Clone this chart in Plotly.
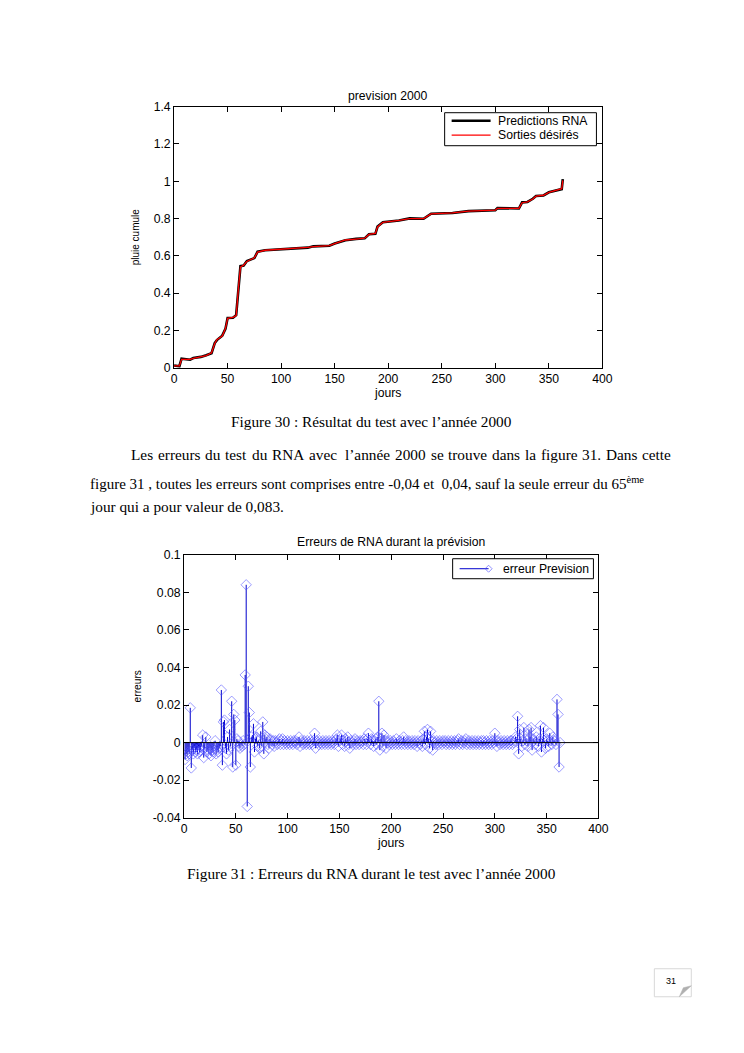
import plotly.graph_objects as go

# ---------------- data ----------------
# Figure 30 : cumulative rainfall (day, value) vertices
days_desired = [0, 5, 7, 15, 18, 25, 30, 35, 38, 40, 45, 48, 50, 55, 58, 60, 62, 65, 68, 75, 78, 85,
                100, 125, 130, 145, 150, 160, 170, 178, 182, 188, 190, 195, 210, 220, 233, 240,
                260, 275, 300, 302, 322, 325, 330, 335, 338, 345, 350, 360, 362, 363]
desired = [0.010, 0.010, 0.045, 0.045, 0.050, 0.060, 0.065, 0.080, 0.130, 0.150, 0.170, 0.210,
           0.265, 0.270, 0.280, 0.420, 0.540, 0.550, 0.570, 0.590, 0.620, 0.630, 0.635, 0.645,
           0.650, 0.655, 0.665, 0.685, 0.690, 0.695, 0.715, 0.720, 0.755, 0.780, 0.790, 0.800,
           0.800, 0.825, 0.830, 0.840, 0.845, 0.855, 0.855, 0.885, 0.890, 0.905, 0.920, 0.925,
           0.940, 0.955, 0.960, 1.005]
days_pred = days_desired
predicted = [0.012, 0.008, 0.048, 0.043, 0.052, 0.058, 0.067, 0.078, 0.132, 0.148, 0.172, 0.208,
             0.267, 0.268, 0.282, 0.425, 0.545, 0.548, 0.572, 0.588, 0.622, 0.630, 0.636, 0.644,
             0.651, 0.654, 0.666, 0.684, 0.691, 0.694, 0.716, 0.718, 0.757, 0.780, 0.790, 0.801,
             0.799, 0.826, 0.830, 0.840, 0.845, 0.856, 0.854, 0.887, 0.889, 0.906, 0.921, 0.924,
             0.941, 0.954, 0.958, 1.012]

# Figure 31 : daily errors, days 1..363
errors = [
    -0.009, -0.006, -0.007, -0.005, -0.006, 0.0185, -0.0135, -0.004, -0.006, -0.003,
    -0.005, -0.004, -0.006, -0.003, -0.005, -0.004, -0.002, 0.004, -0.008, -0.003,
    0.003, -0.005, -0.004, -0.006, -0.003, -0.007, -0.004, -0.005, -0.002, 0.001,
    -0.006, -0.004, -0.005, -0.003, -0.002, 0.028, -0.012, 0.011, 0.012, -0.003,
    -0.006, 0.003, -0.004, 0.007, -0.002, 0.022, -0.013, 0.015, 0.012, -0.012,
    0.002, 0.001, -0.002, -0.003, -0.001, -0.002, 0.001, -0.001, 0.036, 0.084,
    -0.034, 0.030, 0.016, -0.013, 0.003, 0.004, 0.010, -0.005, 0.002, 0.003,
    -0.002, 0.001, -0.003, 0.006, -0.002, 0.011, -0.006, 0.004, 0.002, 0.003,
    -0.001, -0.003, 0.002, 0.001, -0.001, 0.001, -0.002, 0.001, 0.000, -0.001,
    0.001, 0.002, -0.001, 0.001, 0.002, -0.001, 0.001, 0.000, -0.001, 0.001,
    0.000, -0.001, 0.001, 0.000, -0.001, 0.001, 0.000, 0.001, -0.001, 0.000,
    0.003, -0.002, 0.001, 0.000, -0.001, 0.001, 0.000, -0.001, 0.001, 0.000,
    -0.001, 0.001, 0.000, -0.001, 0.001, 0.005, -0.003, 0.001, 0.000, -0.001,
    0.001, 0.000, -0.001, 0.001, 0.000, -0.001, 0.001, 0.000, -0.001, 0.001,
    0.000, -0.001, 0.001, 0.000, -0.001, 0.001, 0.002, 0.004, -0.002, 0.001,
    0.002, 0.004, -0.001, 0.001, -0.002, 0.002, 0.001, 0.003, -0.001, -0.003,
    0.001, 0.000, -0.001, 0.001, 0.002, -0.001, 0.001, 0.000, -0.001, 0.001,
    0.000, 0.001, -0.001, 0.002, 0.001, -0.001, 0.002, 0.005, 0.001, -0.001,
    0.002, 0.001, -0.002, 0.001, 0.002, -0.001, 0.003, 0.022, -0.004, 0.002,
    0.005, -0.002, 0.004, 0.001, -0.003, 0.001, 0.000, -0.001, 0.001, 0.000,
    -0.001, 0.001, 0.000, -0.001, 0.002, 0.000, -0.001, 0.001, 0.000, -0.001,
    0.001, 0.003, -0.001, 0.001, 0.000, -0.001, 0.001, 0.000, -0.001, 0.001,
    0.000, -0.001, 0.001, 0.000, -0.002, 0.001, 0.000, -0.001, 0.001, -0.002,
    0.002, 0.006, -0.001, 0.003, 0.007, 0.002, -0.003, 0.006, 0.001, -0.004,
    0.001, 0.000, -0.001, 0.001, 0.000, -0.001, 0.001, 0.000, -0.001, 0.001,
    0.000, 0.001, -0.001, 0.000, 0.001, -0.001, 0.000, 0.001, -0.001, 0.000,
    0.001, -0.001, 0.000, 0.001, 0.002, -0.001, 0.000, 0.001, -0.001, 0.000,
    0.001, 0.002, -0.001, 0.000, 0.001, -0.001, 0.000, 0.001, -0.001, 0.000,
    0.001, -0.001, 0.000, 0.001, -0.001, 0.000, 0.001, -0.001, 0.001, 0.000,
    -0.001, 0.001, 0.000, -0.001, 0.001, 0.000, -0.001, 0.001, 0.000, 0.005,
    0.001, -0.002, 0.001, 0.000, -0.001, 0.001, 0.000, -0.001, 0.001, 0.000,
    -0.001, 0.001, 0.000, -0.001, 0.001, 0.001, -0.001, 0.000, 0.001, 0.003,
    0.002, 0.014, -0.006, 0.007, 0.002, -0.002, 0.001, 0.008, -0.001, 0.002,
    0.001, -0.002, 0.007, 0.003, 0.008, -0.004, 0.002, 0.001, -0.001, 0.003,
    0.001, -0.002, 0.002, 0.009, -0.005, 0.002, 0.008, 0.001, -0.003, 0.002,
    0.001, -0.002, 0.005, 0.001, -0.001, 0.003, 0.001, 0.001, -0.001, 0.023,
    0.015, -0.013, 0.000,
]
err_days = list(range(1, len(errors) + 1))

x_ticks = [0, 50, 100, 150, 200, 250, 300, 350, 400]
y1_ticks = [0, 0.2, 0.4, 0.6, 0.8, 1.0, 1.2, 1.4]
y1_labels = ["0", "0.2", "0.4", "0.6", "0.8", "1", "1.2", "1.4"]
y2_ticks = [-0.04, -0.02, 0, 0.02, 0.04, 0.06, 0.08, 0.1]
y2_labels = ["-0.04", "-0.02", "0", "0.02", "0.04", "0.06", "0.08", "0.1"]

legend1_names = ["Predictions RNA", "Sorties désirés"]
legend2_name = "erreur Prevision"

paragraph_line1 = "Les erreurs du test du RNA avec  l’année 2000 se trouve dans la figure 31. Dans cette"

# ---------------- figure ----------------
FW, FH = 732, 1041
SX, BX = 0.9837, 10.7     # page placement correction (measured)
SY, BY = 0.9865, 14.3
SANS = "Liberation Sans, Arial, sans-serif"
SERIF = "Liberation Serif, Times New Roman, serif"


def px_x(p):
    return ((p - BX) / SX) / FW


def px_y(p):
    return 1 - ((p - BY) / SY) / FH


# Times-metric advance widths (1/1000 em) used to justify the first paragraph line
TIMES_W = dict(zip("abcdefghijklmnopqrstuvwxyz",
                   [444, 500, 444, 500, 444, 333, 500, 500, 278, 278, 500, 278, 778,
                    500, 500, 500, 500, 333, 389, 278, 500, 500, 722, 500, 500, 444]))
TIMES_W.update({"A": 722, "D": 722, "F": 556, "L": 611, "N": 722, "R": 667, "S": 556,
                "é": 444, "’": 333, ".": 250, ",": 250, ":": 278, " ": 250})
for dch in "0123456789":
    TIMES_W[dch] = 500


def text_w(s, size):
    return sum(TIMES_W.get(ch, 500) for ch in s) * size / 1000.0


fig = go.Figure()

fig.add_trace(go.Scatter(x=days_pred, y=predicted, mode="lines", name=legend1_names[0],
                         line=dict(color="black", width=2.6), xaxis="x", yaxis="y",
                         showlegend=False))
fig.add_trace(go.Scatter(x=days_desired, y=desired, mode="lines", name=legend1_names[1],
                         line=dict(color="#ff0000", width=1.3), xaxis="x", yaxis="y",
                         showlegend=False))

# stems
sx, sy = [], []
for d, v in zip(err_days, errors):
    sx += [d, d, None]
    sy += [0, v, None]
fig.add_trace(go.Scatter(x=sx, y=sy, mode="lines", line=dict(color="#0000cc", width=1),
                         showlegend=False, hoverinfo="skip", xaxis="x2", yaxis="y2"))
fig.add_trace(go.Scatter(x=err_days, y=errors, mode="markers", name=legend2_name,
                         marker=dict(symbol="diamond-open", size=8,
                                     color="rgba(80,80,255,0.72)", line=dict(width=0.8)),
                         showlegend=False, xaxis="x2", yaxis="y2"))

axis_common = dict(showline=True, linecolor="black", linewidth=1, mirror="ticks",
                   ticks="inside", ticklen=5, tickcolor="black", showgrid=False,
                   zeroline=False, tickfont=dict(family=SANS, size=12.2, color="black"))
title_font = dict(family=SANS, size=12.2, color="black")

fig.update_layout(
    width=FW, height=FH, margin=dict(l=0, r=0, t=0, b=0),
    paper_bgcolor="white", plot_bgcolor="white", showlegend=False,
    xaxis=dict(domain=[px_x(174), px_x(603)], range=[0, 400], tickvals=x_ticks,
               anchor="y", title=dict(text="jours", font=title_font, standoff=1),
               **axis_common),
    yaxis=dict(domain=[px_y(367), px_y(106)], range=[0, 1.4], tickvals=y1_ticks,
               ticktext=y1_labels, anchor="x",
               title=dict(text="pluie cumule", font=dict(family=SANS, size=10, color="black"),
                          standoff=12),
               **axis_common),
    xaxis2=dict(domain=[px_x(184), px_x(599)], range=[0, 400], tickvals=x_ticks,
                anchor="y2", title=dict(text="jours", font=title_font, standoff=1),
                **axis_common),
    yaxis2=dict(domain=[px_y(817), px_y(554)], range=[-0.04, 0.1], tickvals=y2_ticks,
                ticktext=y2_labels, anchor="x2",
                title=dict(text="erreurs", font=dict(family=SANS, size=10.2, color="black"),
                           standoff=9),
                **axis_common),
)

shapes = [
    # stem baseline
    dict(type="line", xref="x2", yref="y2", x0=0, x1=400, y0=0, y1=0,
         line=dict(color="black", width=1)),
    # legend 1 box and samples
    dict(type="rect", xref="paper", yref="paper", x0=px_x(445), x1=px_x(597),
         y0=px_y(145), y1=px_y(112), line=dict(color="black", width=1), fillcolor="white"),
    dict(type="line", xref="paper", yref="paper", x0=px_x(452), x1=px_x(491),
         y0=px_y(120), y1=px_y(120), line=dict(color="black", width=2.6)),
    dict(type="line", xref="paper", yref="paper", x0=px_x(452), x1=px_x(491),
         y0=px_y(134.5), y1=px_y(134.5), line=dict(color="#ff0000", width=1.2)),
    # legend 2 box and sample
    dict(type="rect", xref="paper", yref="paper", x0=px_x(453), x1=px_x(594),
         y0=px_y(578), y1=px_y(558), line=dict(color="black", width=1), fillcolor="white"),
    dict(type="line", xref="paper", yref="paper", x0=px_x(460), x1=px_x(489),
         y0=px_y(568), y1=px_y(568), line=dict(color="#0000cc", width=1)),
    dict(type="path", xref="paper", yref="paper",
         path=(f"M {px_x(485.5)},{px_y(568)} L {px_x(489)},{px_y(564.5)} "
               f"L {px_x(492.5)},{px_y(568)} L {px_x(489)},{px_y(571.5)} Z"),
         line=dict(color="rgba(80,80,255,0.8)", width=0.8), fillcolor="rgba(0,0,0,0)"),
    # page-number box
    dict(type="rect", xref="paper", yref="paper", x0=px_x(655), x1=px_x(692),
         y0=px_y(996), y1=px_y(968), line=dict(color="#d8d8d8", width=1), fillcolor="white"),
    dict(type="path", xref="paper", yref="paper",
         path=f"M {px_x(680)},{px_y(996)} L {px_x(692)},{px_y(985)} L {px_x(684)},{px_y(987)} Z",
         fillcolor="#b0b0b0", line=dict(color="#b0b0b0", width=0.5)),
]
fig.update_layout(shapes=shapes)

ann = [
    dict(text="prevision 2000", x=px_x(388), y=px_y(95), font=dict(family=SANS, size=12.2)),
    dict(text="Erreurs de RNA durant la prévision", x=px_x(391), y=px_y(541),
         font=dict(family=SANS, size=12.2)),
    dict(text=legend1_names[0], x=px_x(496), y=px_y(120), xanchor="left",
         font=dict(family=SANS, size=12.2)),
    dict(text=legend1_names[1], x=px_x(496), y=px_y(134.5), xanchor="left",
         font=dict(family=SANS, size=12.2)),
    dict(text=legend2_name, x=px_x(501), y=px_y(568), xanchor="left",
         font=dict(family=SANS, size=12.2)),
    dict(text="Figure 30 : Résultat du test avec l’année 2000", x=px_x(372), y=px_y(421),
         font=dict(family=SERIF, size=15.3)),
    dict(text="figure 31 , toutes les erreurs sont comprises entre -0,04 et  0,04, sauf la seule erreur du 65<sup>ème</sup>",
         x=px_x(88), y=px_y(482), xanchor="left", font=dict(family=SERIF, size=15)),
    dict(text="jour qui a pour valeur de 0,083.", x=px_x(88), y=px_y(506), xanchor="left",
         font=dict(family=SERIF, size=15.3)),
    dict(text="Figure 31 : Erreurs du RNA durant le test avec l’année 2000", x=px_x(372),
         y=px_y(873), font=dict(family=SERIF, size=15.3)),
    dict(text="31", x=px_x(672), y=px_y(980), font=dict(family=SANS, size=9)),
]

# justified first paragraph line: words spread evenly between the two margins
L_SIZE, L_START, L_END = 15.3, 130.0, 671.0
tokens = paragraph_line1.split(" ")
words, gaps_before = [], []
pending = 0
for t in tokens:
    if t == "":
        pending += 1          # extra space (double space in the source text)
        continue
    words.append(t)
    gaps_before.append(pending)
    pending = 0
widths = [text_w(w, L_SIZE) for w in words]
space_w = text_w(" ", L_SIZE)
extra_spaces = sum(gaps_before[1:])
gap = (L_END - L_START - sum(widths) - extra_spaces * space_w) / (len(words) - 1)
xpos = L_START
for i, (w, wd) in enumerate(zip(words, widths)):
    if i > 0:
        xpos += gap + gaps_before[i] * space_w
    ann.append(dict(text=w, x=px_x(xpos), y=px_y(454), xanchor="left",
                    font=dict(family=SERIF, size=L_SIZE), borderpad=0))
    xpos += wd

for a in ann:
    a.setdefault("xanchor", "center")
    a.update(xref="paper", yref="paper", yanchor="middle", showarrow=False)
    a["font"]["color"] = "black"
fig.update_layout(annotations=ann)

fig.write_html("out.html", config={"displayModeBar": False})
